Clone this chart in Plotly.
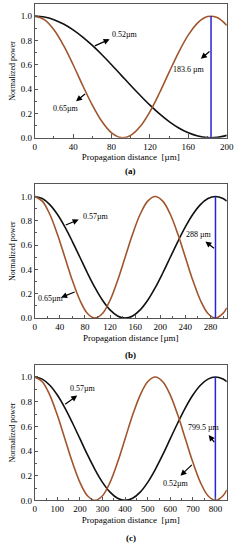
import plotly.graph_objects as go

# ---------- data ----------
# panel (a)
xa = [0, 10, 20, 30, 40, 50, 60, 70, 80, 90, 100, 110, 120, 130, 140, 150, 160, 170, 180, 190, 200]
ya_052 = [1.0, 0.9927, 0.9710, 0.9356, 0.8874, 0.8279, 0.7588, 0.6822, 0.6001, 0.5151, 0.4295,
          0.3469, 0.2679, 0.1959, 0.1328, 0.0804, 0.0402, 0.0135, 0.0009, 0.0030, 0.0196]
ya_065 = [1.0, 0.9710, 0.8874, 0.7588, 0.6001, 0.4295, 0.2679, 0.1328, 0.0402, 0.0009, 0.0196,
          0.0939, 0.2153, 0.3698, 0.5393, 0.7044, 0.8455, 0.9467, 0.9962, 0.9880, 0.9233]
a_mark = 183.6

# panel (b)
xb = [0, 12, 24, 36, 48, 60, 72, 84, 96, 108, 120, 132, 144, 156, 168, 180, 192, 204, 216, 228,
      240, 252, 264, 276, 288, 300, 306]
yb_057 = [1.0, 0.9830, 0.9330, 0.8536, 0.7500, 0.6294, 0.5000, 0.3706, 0.2500, 0.1464, 0.0670,
          0.0170, 0.0, 0.0170, 0.0670, 0.1464, 0.2500, 0.3706, 0.5000, 0.6294, 0.7500, 0.8536,
          0.9330, 0.9830, 1.0, 0.9830, 0.9619]
yb_065 = [1.0, 0.9619, 0.8536, 0.6913, 0.5000, 0.3087, 0.1464, 0.0381, 0.0, 0.0381, 0.1464,
          0.3087, 0.5000, 0.6913, 0.8536, 0.9619, 1.0, 0.9619, 0.8536, 0.6913, 0.5000, 0.3087,
          0.1464, 0.0381, 0.0, 0.0381, 0.0843]
b_mark = 288

# panel (c)
xc = [0, 33.3, 66.7, 100, 133.3, 166.7, 200, 233.3, 266.7, 300, 333.3, 366.7, 400, 433.3, 466.7,
      500, 533.3, 566.7, 600, 633.3, 666.7, 700, 733.3, 766.7, 800, 833.3, 850]
yc_057 = [1.0, 0.9830, 0.9330, 0.8536, 0.7500, 0.6294, 0.5000, 0.3706, 0.2500, 0.1464, 0.0670,
          0.0170, 0.0, 0.0170, 0.0670, 0.1464, 0.2500, 0.3706, 0.5000, 0.6294, 0.7500, 0.8536,
          0.9330, 0.9830, 1.0, 0.9830, 0.9619]
yc_052 = [1.0, 0.9619, 0.8536, 0.6913, 0.5000, 0.3087, 0.1464, 0.0381, 0.0, 0.0381, 0.1464,
          0.3087, 0.5000, 0.6913, 0.8536, 0.9619, 1.0, 0.9619, 0.8536, 0.6913, 0.5000, 0.3087,
          0.1464, 0.0381, 0.0, 0.0381, 0.0843]
c_mark = 799.5

panel_labels = ["(a)", "(b)", "(c)"]
x_titles = ["Propagation distance\u00a0\u00a0[\u00b5m]", "Propagation distance [\u00b5m]",
            "Propagation distance\u00a0\u00a0[\u00b5m]"]
y_title = "Normalized power"

# ---------- styling ----------
BLACK = "#111111"
BROWN = "#a0552d"
BLUE = "#2626d4"
FONT = "Liberation Serif"
W, H = 241, 550

x_dom = [34 / W, 233.5 / W]
panels_px = [(4, 139), (186, 321), (368, 505)]
x_ranges = [[0, 200], [0, 306], [0, 850]]
x_dticks = [40, 40, 100]
x_minor = [20, 20, 50]

fig = go.Figure()

def add_line(x, y, color, idx, width=1.6):
    fig.add_trace(go.Scatter(x=x, y=y, mode="lines",
                             line=dict(color=color, width=width, shape="spline", smoothing=1.0),
                             xaxis="x" if idx == 0 else f"x{idx+1}",
                             yaxis="y" if idx == 0 else f"y{idx+1}",
                             showlegend=False, hoverinfo="skip"))

add_line(xa, ya_052, BLACK, 0)
add_line(xa, ya_065, BROWN, 0)
add_line([a_mark, a_mark], [0, 1], BLUE, 0, 1.5)
add_line(xb, yb_057, BLACK, 1)
add_line(xb, yb_065, BROWN, 1)
add_line([b_mark, b_mark], [0, 1], BLUE, 1, 1.5)
add_line(xc, yc_057, BLACK, 2)
add_line(xc, yc_052, BROWN, 2)
add_line([c_mark, c_mark], [0, 1], BLUE, 2, 1.5)

layout = dict(width=W, height=H, margin=dict(l=0, r=0, t=0, b=0),
              paper_bgcolor="white", plot_bgcolor="white",
              font=dict(family=FONT, size=9, color="#000000"), showlegend=False)

for i in range(3):
    top, bot = panels_px[i]
    ydom = [1 - bot / H, 1 - top / H]
    xk = "xaxis" if i == 0 else f"xaxis{i+1}"
    yk = "yaxis" if i == 0 else f"yaxis{i+1}"
    xa_name = "x" if i == 0 else f"x{i+1}"
    ya_name = "y" if i == 0 else f"y{i+1}"
    layout[xk] = dict(domain=x_dom, anchor=ya_name, range=x_ranges[i], dtick=x_dticks[i], tick0=0,
                      showgrid=False, zeroline=False, showline=True, mirror=True, linecolor="#555",
                      linewidth=1, ticks="inside", ticklen=3.5, tickcolor="#555",
                      ticklabeloverflow="allow",
                      minor=dict(dtick=x_minor[i], ticks="inside", ticklen=2, tickcolor="#555"),
                      tickfont=dict(family=FONT, size=9, color="#000000"),
                      title=dict(text=x_titles[i], font=dict(family=FONT, size=9, color="#000000"), standoff=3))
    layout[yk] = dict(domain=ydom, anchor=xa_name, range=[0, 1.1], dtick=0.2, tick0=0, tickformat=".1f",
                      showgrid=False, zeroline=False, showline=True, mirror=True, linecolor="#555",
                      linewidth=1, ticks="inside", ticklen=3.5, tickcolor="#555",
                      minor=dict(dtick=0.1, ticks="inside", ticklen=2, tickcolor="#555"),
                      tickfont=dict(family=FONT, size=9, color="#000000"),
                      title=dict(text=y_title, font=dict(family=FONT, size=8, color="#000000"), standoff=3))

fig.update_layout(**layout)

for i, lab in enumerate(panel_labels):
    ypx = [173, 358, 543][i]
    fig.add_annotation(text=f"<b>{lab}</b>", xref="paper", yref="paper", x=133.5 / W, y=1 - ypx / H,
                       showarrow=False, font=dict(family=FONT, size=9, color="#000000"),
                       xanchor="center", yanchor="middle")

# curve labels with arrows (arrow head near the label, tail on the curve)
labels = [
    # panel, text, text x, text y, head x, head y, tail x, tail y
    (0, "0.52\u00b5m", 94, 0.845, 78, 0.81, 61, 0.75),
    (0, "0.65\u00b5m", 33, 0.24, 43, 0.30, 54, 0.37),
    (0, "183.6 \u00b5m", 161, 0.565, 173, 0.65, 183.6, 0.72),
    (1, "0.57\u00b5m", 97, 0.837, 70, 0.81, 47, 0.76),
    (1, "0.65\u00b5m", 26, 0.157, 42, 0.17, 66, 0.22),
    (1, "288 \u00b5m", 261, 0.69, 272, 0.63, 288, 0.565),
    (2, "0.57\u00b5m", 214, 0.906, 188, 0.85, 128, 0.77),
    (2, "0.52\u00b5m", 625, 0.14, 645, 0.20, 702, 0.30),
    (2, "799.5 \u00b5m", 749, 0.594, 770, 0.53, 799.5, 0.46),
]
for p, txt, tx, ty, hx, hy, sx, sy in labels:
    xr = "x" if p == 0 else f"x{p+1}"
    yr = "y" if p == 0 else f"y{p+1}"
    fig.add_annotation(text=txt, x=tx, y=ty, xref=xr, yref=yr, showarrow=False,
                       font=dict(family=FONT, size=8, color="#000000"), xanchor="center", yanchor="middle")
    fig.add_annotation(text="", x=hx, y=hy, xref=xr, yref=yr, ax=sx, ay=sy, axref=xr, ayref=yr,
                       showarrow=True, arrowhead=2, arrowsize=1.0, arrowwidth=1.2, arrowcolor="#000000",
                       standoff=0, startstandoff=0)

fig.write_html("out.html", config={"displayModeBar": False},
               post_script="document.body.style.margin='0px';document.body.style.overflow='hidden';")
